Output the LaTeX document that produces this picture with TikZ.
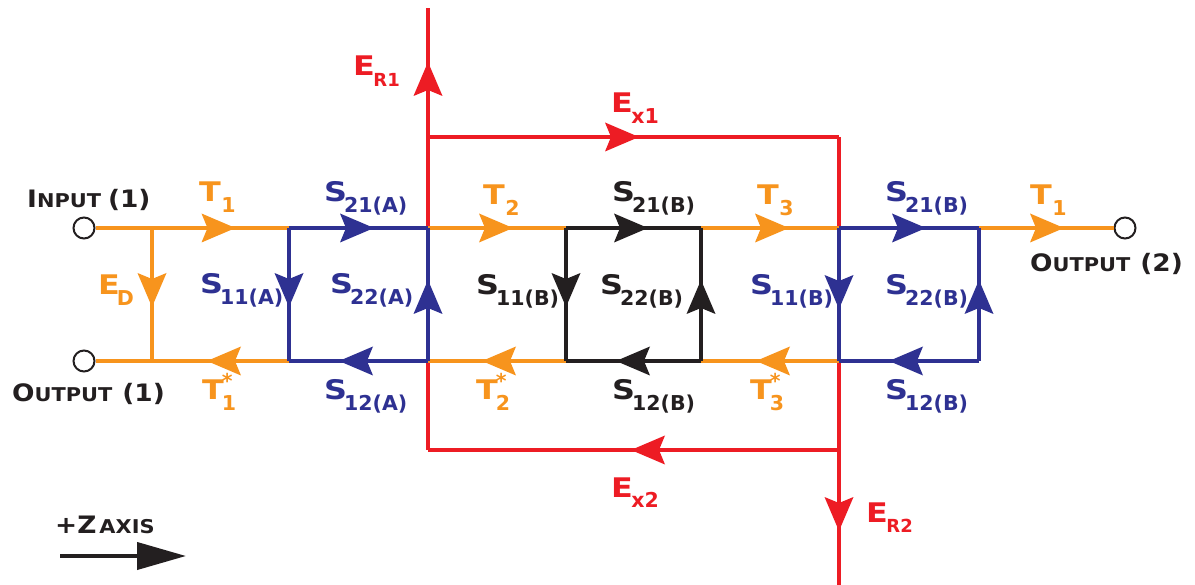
\documentclass[tikz,border=0pt]{standalone}
\usepackage{fontspec}
\setmainfont{DejaVu Sans}
\newfontfamily\capfam{DejaVu Sans Bold}[FakeStretch=1.1]
\newfontfamily\mainfam{DejaVu Sans Bold}[FakeStretch=1.18]
\newfontfamily\subfam{DejaVu Sans Bold}
\usetikzlibrary{arrows.meta,decorations.markings}
\definecolor{tor}{HTML}{F7941D}
\definecolor{tbl}{HTML}{2E3192}
\definecolor{tre}{HTML}{ED1C24}
\definecolor{tbk}{HTML}{231F20}
\newcommand{\mainf}{\mainfam\fontsize{27}{27}\selectfont}
\newcommand{\subf}{\subfam\fontsize{20.5}{20}\selectfont}
\newcommand{\rsubf}{\subfam\fontsize{18}{18}\selectfont}
\newcommand{\capf}{\capfam\fontsize{24}{24}\selectfont}
\newcommand{\scf}{\capfam\fontsize{19}{19}\selectfont}
\newcommand{\lbl}[2]{{\mainf #1\kern-3pt\raisebox{-10.5pt}{\subf #2}}}
\newcommand{\lblstar}[2]{{\mainf #1\kern-2pt\rlap{\raisebox{-10.5pt}{\subf #2}}\raisebox{11pt}{\subf *}}}
\tikzset{
  x=1pt,y=-1pt,
  wire/.style={line width=3.6pt,line cap=butt,line join=miter},
  head/.style={postaction={decorate,decoration={markings,mark=at position #1 with {\pgftransformxshift{1pt}\arrow[line width=0pt]{Stealth[length=34pt,width=29pt,inset=6pt]}}}}},
  oline/.style={wire,tor},
  bline/.style={wire,tbl},
  rline/.style={wire,tre},
  kline/.style={wire,tbk},
  port/.style={circle,draw=tbk,fill=white,line width=2pt,minimum size=21pt,inner sep=0pt},
  olab/.style={anchor=base west,inner sep=0pt,text=tor},
  blab/.style={anchor=base west,inner sep=0pt,text=tbl},
  rlab/.style={anchor=base west,inner sep=0pt,text=tre},
  klab/.style={anchor=base west,inner sep=0pt,text=tbk},
}
\begin{document}
\begin{tikzpicture}
\useasboundingbox (0,0) rectangle (1195,585);
% junctions
\foreach \n/\x in {a/152,b/289,c/428,d/566,e/701,f/839,g/979}{
  \coordinate (\n1) at (\x,228);
  \coordinate (\n2) at (\x,361);
}
\coordinate (ctop) at (428,8);
\coordinate (cx) at (428,137);
\coordinate (fx) at (839,137);
\coordinate (cy) at (428,450);
\coordinate (fy) at (839,450);
\coordinate (fbot) at (839,585);
\coordinate (zs) at (60,556);
\coordinate (ze) at (186,556);
\node[port] (in) at (84,228) {};
\node[port] (ou) at (84,361) {};
\node[port] (o2) at (1125,228) {};
% red
\draw[rline,head=74pt] (cx) -- (ctop);
\draw[rline] (c1) -- (cx);
\draw[rline] (c2) -- (cy);
\draw[rline,head=210pt] (cx) -- (fx);
\draw[rline] (fx) -- (f1);
\draw[rline,head=207pt] (fy) -- (cy);
\draw[rline] (f2) -- (fy);
\draw[rline,head=80pt] (fy) -- (fbot);
% orange
\draw[oline,head=139pt] (in.east) -- (b1);
\draw[oline,head=81pt] (b2) -- (ou.east);
\draw[oline,head=78pt] (a1) -- (a2);
\draw[oline,head=84pt] (c1) -- (d1);
\draw[oline,head=83pt] (d2) -- (c2);
\draw[oline,head=87pt] (e1) -- (f1);
\draw[oline,head=82pt] (f2) -- (e2);
\draw[oline,head=84pt] (g1) -- (o2.west);
% blue
\draw[bline,head=84pt] (b1) -- (c1);
\draw[bline,head=78pt] (b1) -- (b2);
\draw[bline,head=88pt] (c2) -- (b2);
\draw[bline,head=80pt] (c2) -- (c1);
\draw[bline,head=86pt] (f1) -- (g1);
\draw[bline,head=80pt] (f1) -- (f2);
\draw[bline,head=89pt] (g2) -- (f2);
\draw[bline,head=80pt] (g2) -- (g1);
% black
\draw[kline,head=81pt] (d1) -- (e1);
\draw[kline,head=78pt] (d1) -- (d2);
\draw[kline,head=84pt] (e2) -- (d2);
\draw[kline,head=80pt] (e2) -- (e1);
\draw[line width=4pt,tbk,-{Triangle[length=49pt,width=27pt]}] (zs) -- (ze);
% labels
\node[klab] (linp) at (27,208) {{\capf I}{\scf NPUT}\kern7pt{\capf (1)}};
\node[klab] (lou1) at (12,402) {{\capf O}{\scf UTPUT}\kern10pt{\capf (1)}};
\node[klab] (lou2) at (1030,272) {{\capf O}{\scf UTPUT}\kern10pt{\capf (2)}};
\node[klab] (lz) at (55,533) {{\capf +Z}\kern3pt{\scf AXIS}};
\node[olab] (lt1) at (199,202) {\lbl{T}{\,1}};
\node[olab] (lt2) at (483,205) {\lbl{T}{\,2}};
\node[olab] (lt3) at (757,205) {\lbl{T}{\,3}};
\node[olab] (lt4) at (1030,205) {\lbl{T}{\,1}};
\node[olab] (led) at (98,295) {\lbl{E}{D}};
\node[olab] (lt1s) at (202,400) {\lblstar{T}{1}};
\node[olab] (lt2s) at (476,400) {\lblstar{T}{2}};
\node[olab] (lt3s) at (750,400) {\lblstar{T}{3}};
\node[blab] (l1) at (324,202) {\lbl{S}{21(A)}};
\node[blab] (l2) at (200,294) {\lbl{S}{11(A)}};
\node[blab] (l3) at (330,294) {\lbl{S}{22(A)}};
\node[blab] (l4) at (324,400) {\lbl{S}{12(A)}};
\node[blab] (l5) at (885,202) {\lbl{S}{21(B)}};
\node[blab] (l6) at (750,295) {\lbl{S}{11(B)}};
\node[blab] (l7) at (885,295) {\lbl{S}{22(B)}};
\node[blab] (l8) at (885,400) {\lbl{S}{12(B)}};
\node[klab] (l9) at (612,202) {\lbl{S}{21(B)}};
\node[klab] (l10) at (476,295) {\lbl{S}{11(B)}};
\node[klab] (l11) at (600,295) {\lbl{S}{22(B)}};
\node[klab] (l12) at (612,400) {\lbl{S}{12(B)}};
\node[rlab] (r1) at (353,76) {\lbl{E}{\kern1.5pt\rsubf R1}};
\node[rlab] (r2) at (611,113) {\lbl{E}{\kern1.5pt x1}};
\node[rlab] (r3) at (611,497) {\lbl{E}{\kern1.5pt x2}};
\node[rlab] (r4) at (866,522) {\lbl{E}{\kern1.5pt\rsubf R2}};
\end{tikzpicture}
\end{document}
